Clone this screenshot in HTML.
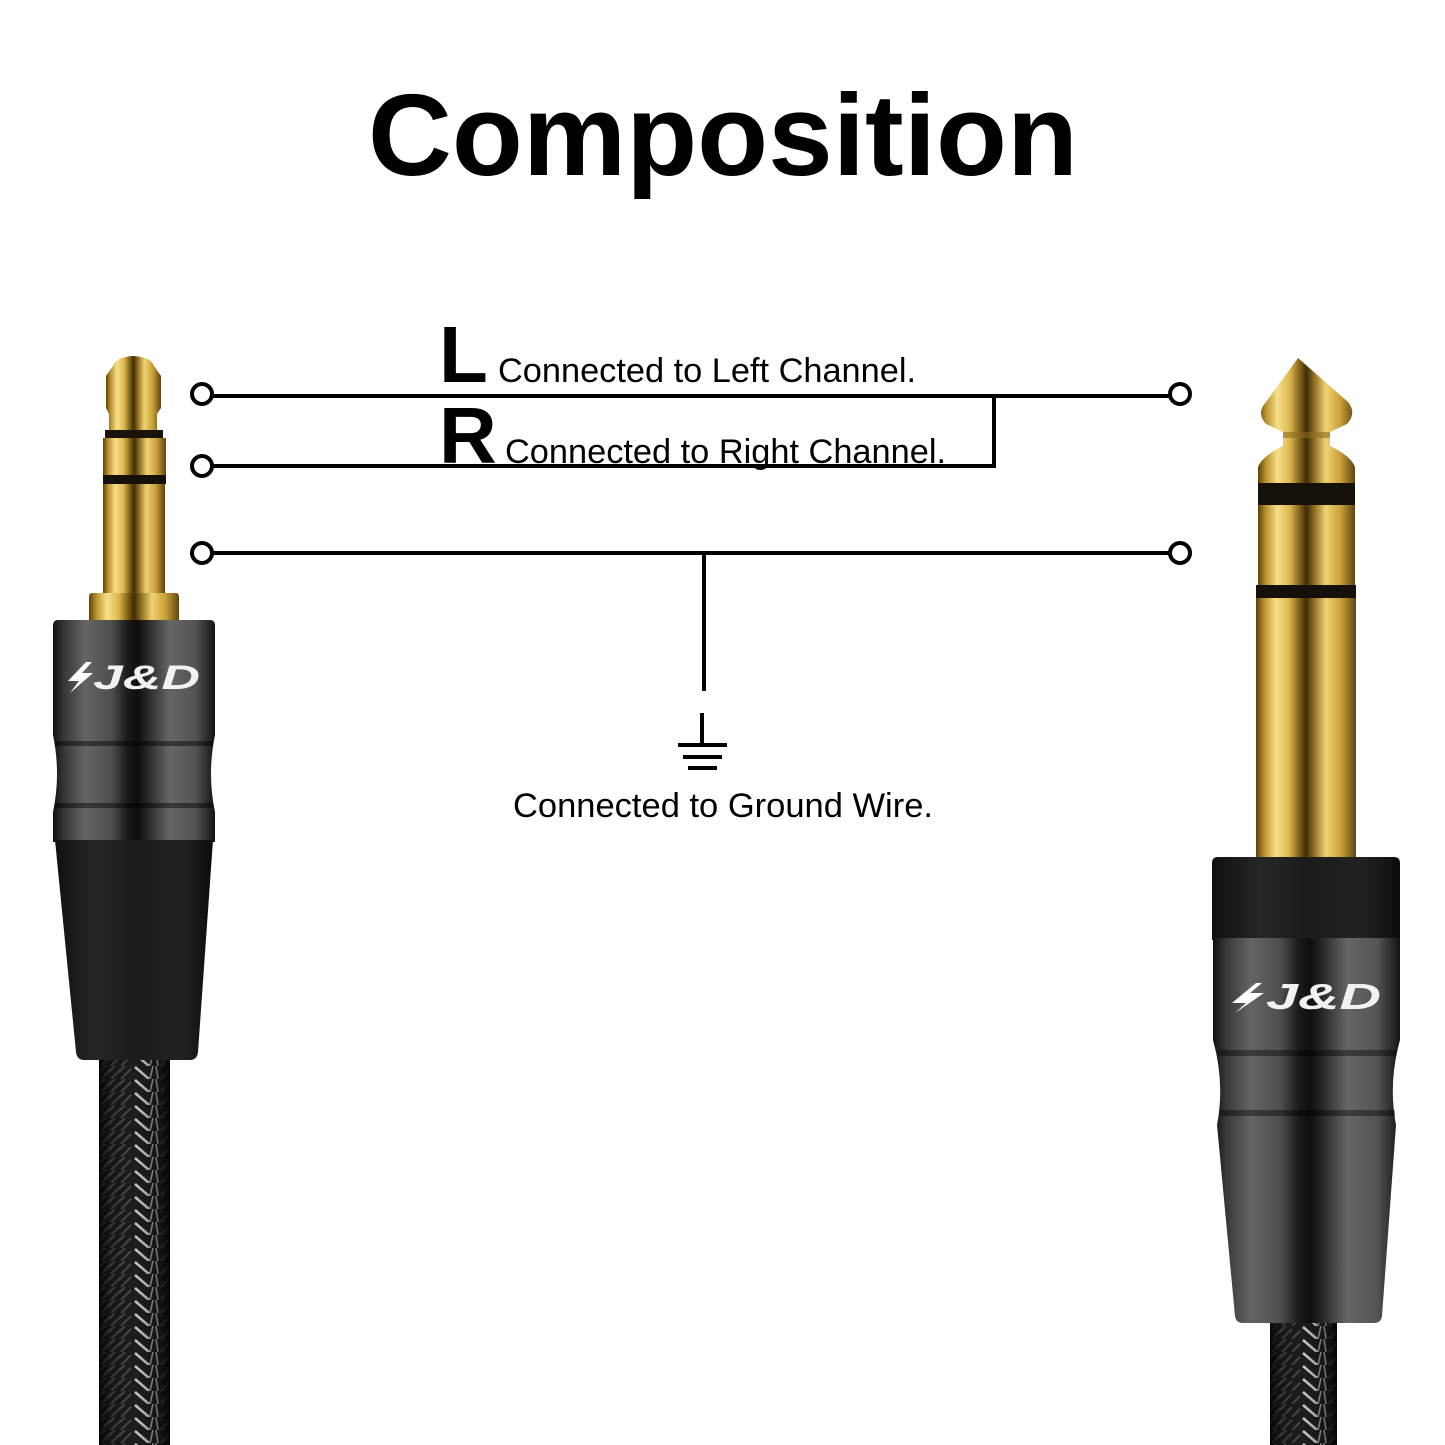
<!DOCTYPE html>
<html>
<head>
<meta charset="utf-8">
<style>
html,body{margin:0;padding:0;background:#fff;}
svg{display:block;}
</style>
</head>
<body>
<svg width="1445" height="1445" viewBox="0 0 1445 1445" xmlns="http://www.w3.org/2000/svg">
<defs>
  <linearGradient id="gold" x1="0" y1="0" x2="1" y2="0">
    <stop offset="0" stop-color="#5a430c"/>
    <stop offset="0.08" stop-color="#b8902c"/>
    <stop offset="0.2" stop-color="#f7e08a"/>
    <stop offset="0.33" stop-color="#dcb64c"/>
    <stop offset="0.44" stop-color="#7a5a16"/>
    <stop offset="0.5" stop-color="#3e2d08"/>
    <stop offset="0.57" stop-color="#86661c"/>
    <stop offset="0.7" stop-color="#f0d272"/>
    <stop offset="0.85" stop-color="#c99f38"/>
    <stop offset="1" stop-color="#5e4510"/>
  </linearGradient>
  <linearGradient id="gloss" x1="0" y1="0" x2="1" y2="0">
    <stop offset="0" stop-color="#121212"/>
    <stop offset="0.07" stop-color="#383838"/>
    <stop offset="0.2" stop-color="#646464"/>
    <stop offset="0.36" stop-color="#4e4e4e"/>
    <stop offset="0.46" stop-color="#1a1a1a"/>
    <stop offset="0.52" stop-color="#0e0e0e"/>
    <stop offset="0.58" stop-color="#262626"/>
    <stop offset="0.72" stop-color="#666"/>
    <stop offset="0.88" stop-color="#535353"/>
    <stop offset="1" stop-color="#141414"/>
  </linearGradient>
  <linearGradient id="matte" x1="0" y1="0" x2="1" y2="0">
    <stop offset="0" stop-color="#101010"/>
    <stop offset="0.25" stop-color="#262626"/>
    <stop offset="0.5" stop-color="#1c1c1c"/>
    <stop offset="0.8" stop-color="#222"/>
    <stop offset="1" stop-color="#0c0c0c"/>
  </linearGradient>
  <linearGradient id="cableShade" x1="0" y1="0" x2="1" y2="0">
    <stop offset="0" stop-color="#000" stop-opacity="0.85"/>
    <stop offset="0.15" stop-color="#000" stop-opacity="0.3"/>
    <stop offset="0.5" stop-color="#000" stop-opacity="0"/>
    <stop offset="0.85" stop-color="#000" stop-opacity="0.3"/>
    <stop offset="1" stop-color="#000" stop-opacity="0.85"/>
  </linearGradient>
  <pattern id="braidL" patternUnits="userSpaceOnUse" x="99" y="0" width="71" height="13">
    <rect x="0" y="0" width="71" height="13" fill="#1e1e1e"/>
    <path d="M2 13 L12 3 M12 13 L22 3 M22 13 L32 3 M6 0 L0 6 M16 0 L10 6 M26 0 L20 6" stroke="#4c4c4c" stroke-width="2"/>
    <path d="M36 1 Q43 7 50 13" stroke="#c8c8c8" stroke-width="2.5" fill="none"/>
    <path d="M51 13 L54 0 M57 0 L59 13" stroke="#9a9a9a" stroke-width="1.6" fill="none"/>
    <path d="M62 13 L70 4" stroke="#444" stroke-width="2"/>
  </pattern>
  <pattern id="braidR" patternUnits="userSpaceOnUse" x="1270" y="0" width="67" height="13">
    <rect x="0" y="0" width="67" height="13" fill="#1e1e1e"/>
    <path d="M2 13 L12 3 M12 13 L22 3 M22 13 L30 5 M6 0 L0 6 M16 0 L10 6" stroke="#4c4c4c" stroke-width="2"/>
    <path d="M33 1 Q40 7 47 13" stroke="#c8c8c8" stroke-width="2.5" fill="none"/>
    <path d="M48 13 L51 0 M54 0 L56 13" stroke="#9a9a9a" stroke-width="1.6" fill="none"/>
    <path d="M59 13 L66 5" stroke="#444" stroke-width="2"/>
  </pattern>
</defs>

<rect width="1445" height="1445" fill="#fff"/>

<!-- Title -->
<text x="368" y="175" font-family="Liberation Sans, Arial, sans-serif" font-weight="bold" font-size="116" textLength="710" lengthAdjust="spacingAndGlyphs" fill="#000">Composition</text>

<!-- Wiring lines -->
<g stroke="#000" stroke-width="4" fill="none">
  <line x1="213" y1="396" x2="1169" y2="396"/>
  <polyline points="213,466 994,466 994,396"/>
  <line x1="213" y1="553" x2="1169" y2="553"/>
  <line x1="704" y1="553" x2="704" y2="691"/>
  <line x1="702" y1="713" x2="702" y2="745"/>
  <line x1="678" y1="745" x2="727" y2="745"/>
  <line x1="683" y1="757" x2="722" y2="757"/>
  <line x1="688" y1="768" x2="717" y2="768"/>
</g>
<g stroke="#000" stroke-width="4" fill="#fff">
  <circle cx="202" cy="394" r="10"/>
  <circle cx="202" cy="466" r="10"/>
  <circle cx="202" cy="553" r="10"/>
  <circle cx="1180" cy="394" r="10"/>
  <circle cx="1180" cy="553" r="10"/>
</g>

<!-- Labels -->
<text x="439" y="382" font-family="Liberation Sans, Arial, sans-serif" font-weight="bold" font-size="80" fill="#000">L</text>
<text x="498" y="382" font-family="Liberation Sans, Arial, sans-serif" font-size="34" textLength="418" lengthAdjust="spacingAndGlyphs" fill="#000">Connected to Left Channel.</text>
<text x="439" y="463" font-family="Liberation Sans, Arial, sans-serif" font-weight="bold" font-size="80" fill="#000">R</text>
<text x="505" y="463" font-family="Liberation Sans, Arial, sans-serif" font-size="34" textLength="441" lengthAdjust="spacingAndGlyphs" fill="#000">Connected to Right Channel.</text>
<text x="513" y="817" font-family="Liberation Sans, Arial, sans-serif" font-size="34" textLength="420" lengthAdjust="spacingAndGlyphs" fill="#000">Connected to Ground Wire.</text>

<!-- LEFT PLUG (3.5mm) -->
<rect x="99" y="1050" width="71" height="395" fill="url(#braidL)"/>
<rect x="99" y="1050" width="71" height="395" fill="url(#cableShade)"/>

<path d="M113,366 Q116,357 133,356 Q151,357 154,366 L161,376 L161,408 L157,414 L157,430 L109,430 L109,414 L106,408 L106,376 Z" fill="url(#gold)"/>
<rect x="105" y="430" width="58" height="8" fill="#1a1408"/>
<rect x="103" y="438" width="63" height="37" fill="url(#gold)"/>
<rect x="103" y="475" width="63" height="9" fill="#15110a"/>
<rect x="103" y="484" width="62" height="110" fill="url(#gold)"/>
<path d="M92,593 L176,593 Q179,593 179,597 L179,620 L89,620 L89,597 Q89,593 92,593 Z" fill="url(#gold)"/>

<path d="M58,620 L210,620 Q215,620 215,626 L215,735 Q207,774 215,812 L215,842 L53,842 L53,812 Q61,774 53,735 L53,626 Q53,620 58,620 Z" fill="url(#gloss)"/>
<rect x="55" y="741" width="158" height="5" fill="#000" opacity="0.45"/>
<rect x="55" y="803" width="158" height="5" fill="#000" opacity="0.45"/>
<path d="M55,840 L213,840 L198,1052 Q197,1060 190,1060 L84,1060 Q77,1060 76,1052 Z" fill="url(#matte)"/>

<polygon points="86,662 68,681 79,681 70,693 93,673 82,673 92,662" fill="#fff"/>
<text x="93" y="689" font-family="Liberation Sans, Arial, sans-serif" font-weight="bold" font-style="italic" font-size="34" textLength="107" lengthAdjust="spacingAndGlyphs" fill="#f2f2f2">J&amp;D</text>

<!-- RIGHT PLUG (6.35mm) -->
<rect x="1270" y="1310" width="67" height="135" fill="url(#braidR)"/>
<rect x="1270" y="1310" width="67" height="135" fill="url(#cableShade)"/>

<path d="M1298,358 L1266,402 Q1256,413 1266,424 L1283,432 L1283,446 Q1262,456 1258,467 L1355,467 Q1351,456 1330,446 L1330,432 L1347,424 Q1357,413 1348,402 Z" fill="url(#gold)"/>
<path d="M1283,432 L1330,432 L1330,438 L1283,438 Z" fill="#8a6a1e" opacity="0.6"/>
<rect x="1258" y="467" width="97" height="16" fill="url(#gold)"/>
<rect x="1258" y="483" width="97" height="22" fill="#161108"/>
<rect x="1258" y="505" width="97" height="80" fill="url(#gold)"/>
<rect x="1256" y="585" width="100" height="13" fill="#161108"/>
<rect x="1256" y="598" width="100" height="265" fill="url(#gold)"/>

<path d="M1218,857 L1394,857 Q1400,857 1400,863 L1400,940 L1212,940 L1212,863 Q1212,857 1218,857 Z" fill="url(#matte)"/>
<path d="M1213,938 L1400,938 L1400,1040 Q1388,1083 1396,1125 L1382,1316 Q1381,1323 1374,1323 L1243,1323 Q1236,1323 1235,1316 L1217,1125 Q1225,1083 1213,1040 Z" fill="url(#gloss)"/>
<rect x="1218" y="1050" width="178" height="6" fill="#000" opacity="0.4"/>
<rect x="1220" y="1110" width="175" height="6" fill="#000" opacity="0.4"/>

<polygon points="1256,983 1232,1003 1246,1003 1235,1013 1264,993 1250,993 1262,983" fill="#fff"/>
<text x="1266" y="1009" font-family="Liberation Sans, Arial, sans-serif" font-weight="bold" font-style="italic" font-size="36" textLength="115" lengthAdjust="spacingAndGlyphs" fill="#f2f2f2">J&amp;D</text>
</svg>
</body>
</html>
